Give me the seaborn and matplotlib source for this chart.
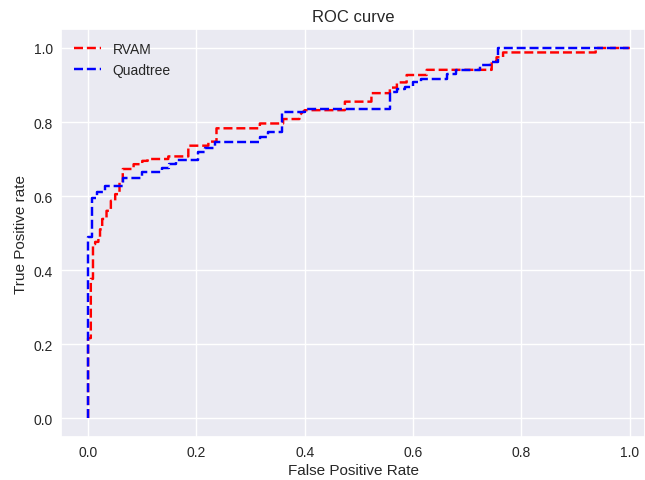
import numpy as np
import pandas as pd
import matplotlib
matplotlib.use("Agg")
import matplotlib.pyplot as plt
import seaborn as sns

# ROC points (step corners)
rvam_fpr = [0.0, 0.0, 0.005, 0.005, 0.009, 0.009, 0.013, 0.013, 0.019, 0.019, 0.022,
            0.022, 0.026, 0.026, 0.034, 0.034, 0.042, 0.042, 0.05, 0.05, 0.058, 0.058,
            0.064, 0.064, 0.084, 0.084, 0.1, 0.1, 0.11,
            0.11, 0.148, 0.148, 0.185, 0.185, 0.222, 0.222, 0.237, 0.237, 0.317,
            0.317, 0.36, 0.36, 0.39, 0.39, 0.4, 0.474, 0.474, 0.523, 0.523, 0.557,
            0.557, 0.57, 0.57, 0.588, 0.588, 0.625, 0.625, 0.745, 0.745, 0.754,
            0.754, 0.766, 0.766, 0.937, 0.937, 1.0]
rvam_tpr = [0.0, 0.216, 0.216, 0.376, 0.376, 0.47, 0.47, 0.476, 0.476, 0.489, 0.489,
            0.51, 0.51, 0.538, 0.538, 0.56, 0.56, 0.587, 0.587, 0.605, 0.605, 0.637,
            0.637, 0.673, 0.673, 0.686, 0.686, 0.695, 0.695,
            0.7, 0.7, 0.707, 0.707, 0.736, 0.736, 0.747, 0.747, 0.783, 0.783,
            0.796, 0.796, 0.808, 0.808, 0.818, 0.832, 0.832, 0.855, 0.855, 0.878, 0.878,
            0.893, 0.893, 0.907, 0.907, 0.927, 0.927, 0.941, 0.941, 0.963, 0.963,
            0.975, 0.975, 0.988, 0.988, 1.0, 1.0]

quad_fpr = [0.0, 0.0, 0.008, 0.008, 0.016, 0.016, 0.031, 0.031, 0.065, 0.065, 0.1,
            0.1, 0.136, 0.136, 0.15, 0.15, 0.162, 0.162, 0.203, 0.203, 0.216, 0.216,
            0.234, 0.234, 0.317, 0.317, 0.333, 0.333, 0.357, 0.357, 0.4, 0.4, 0.557,
            0.557, 0.57, 0.57, 0.585, 0.585, 0.6, 0.6, 0.615, 0.615, 0.662, 0.662,
            0.68, 0.68, 0.723, 0.723, 0.742, 0.742, 0.756, 0.756, 1.0]
quad_tpr = [0.0, 0.49, 0.49, 0.595, 0.595, 0.61, 0.61, 0.628, 0.628, 0.65, 0.65,
            0.664, 0.664, 0.677, 0.677, 0.686, 0.686, 0.698, 0.698, 0.72, 0.72, 0.731,
            0.731, 0.745, 0.745, 0.759, 0.759, 0.772, 0.772, 0.828, 0.828, 0.835, 0.835,
            0.88, 0.88, 0.889, 0.889, 0.894, 0.894, 0.907, 0.907, 0.916, 0.916, 0.93,
            0.93, 0.941, 0.941, 0.954, 0.954, 0.963, 0.963, 1.0, 1.0]

sns.set_theme(style="darkgrid", rc={
    "axes.labelsize": 11, "axes.titlesize": 12, "xtick.labelsize": 10,
    "ytick.labelsize": 10, "legend.fontsize": 10, "font.size": 10,
    "lines.linewidth": 1.75,
    "xtick.major.size": 0, "ytick.major.size": 0,
    "xtick.major.pad": 6, "ytick.major.pad": 6,
})
plt.rcParams["font.family"] = ["Liberation Sans", "DejaVu Sans"]

fig = plt.figure(figsize=(6.45, 4.81), dpi=100)
ax = fig.add_axes([0.0946, 0.0904, 0.9054, 0.8462])

sns.lineplot(x=rvam_fpr, y=rvam_tpr, sort=False, estimator=None, color="red",
             linestyle="--", label="RVAM", ax=ax)
sns.lineplot(x=quad_fpr, y=quad_tpr, sort=False, estimator=None, color="blue",
             linestyle="--", label="Quadtree", ax=ax)

ax.set_xlim(-0.05, 1.028)
ax.set_ylim(-0.05, 1.05)
ax.set_xlabel("False Positive Rate", labelpad=3)
ax.set_ylabel("True Positive rate", labelpad=4)
ax.set_title("ROC curve", pad=6)
ax.legend(loc="upper left", frameon=False)

fig.savefig("out.png", dpi=100)
